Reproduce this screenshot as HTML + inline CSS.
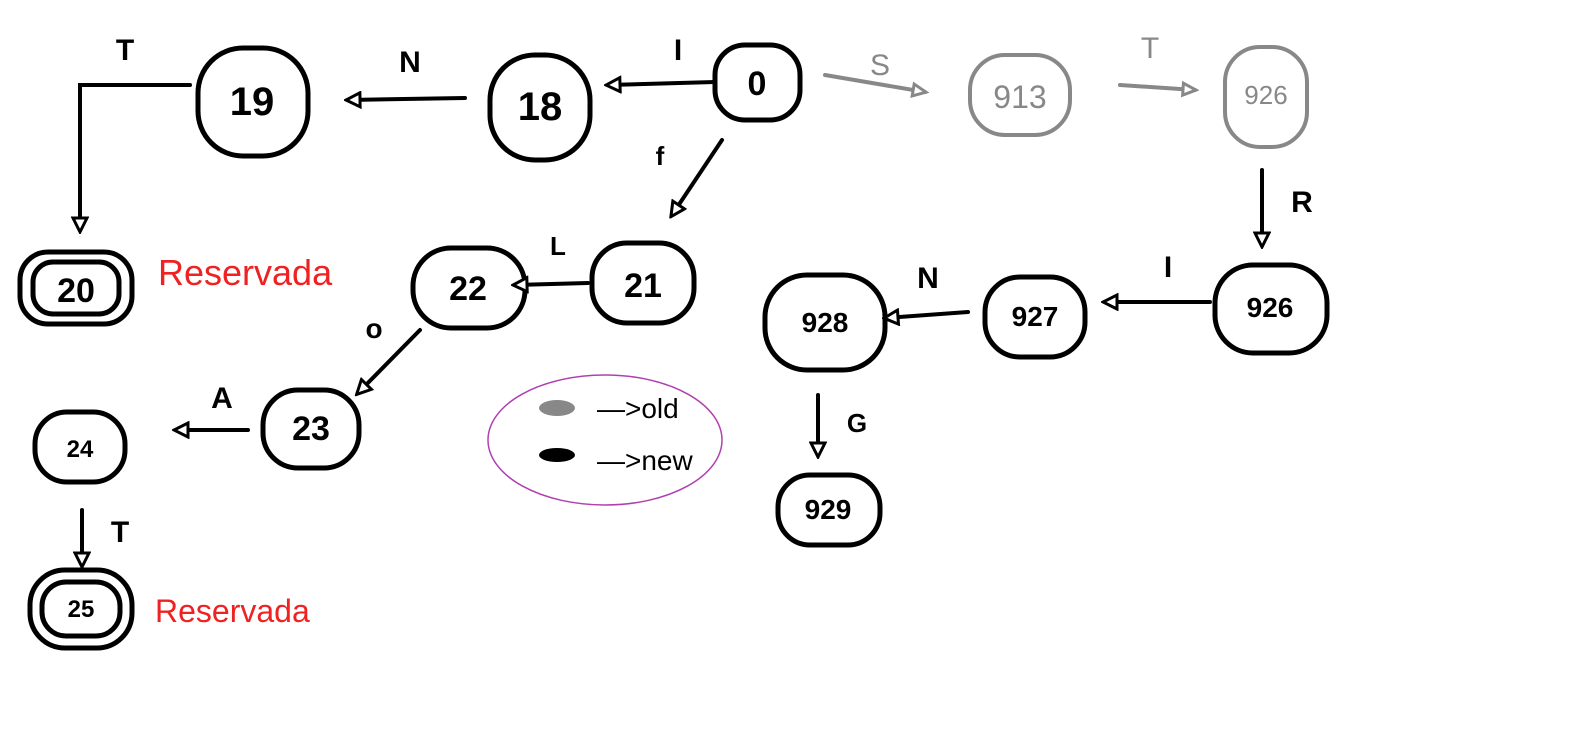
<!DOCTYPE html>
<html><head><meta charset="utf-8"><style>
html,body{margin:0;padding:0;background:#fff;}
svg{display:block;}
text{font-family:"Liberation Sans",sans-serif;}
</style></head><body>
<svg width="1594" height="755" viewBox="0 0 1594 755">
<defs>
<marker id="ab" markerWidth="18" markerHeight="18" refX="14" refY="9" orient="auto" markerUnits="userSpaceOnUse"><path d="M2,2 L16,9 L2,16 Z" fill="#fff" stroke="#000" stroke-width="3"/></marker>
<marker id="ag" markerWidth="18" markerHeight="18" refX="14" refY="9" orient="auto" markerUnits="userSpaceOnUse"><path d="M2,3 L15,9 L2,15 Z" fill="#fff" stroke="#888" stroke-width="3"/></marker>
</defs>
<g fill="none" stroke="#000" stroke-width="5" stroke-linecap="round">
<rect x="198" y="48" width="110" height="108" rx="45"/>
<rect x="490" y="55" width="100" height="105" rx="45"/>
<rect x="715" y="45" width="85" height="75" rx="30"/>
<rect x="20" y="252" width="112" height="72" rx="28"/>
<rect x="33" y="262" width="86" height="52" rx="20"/>
<rect x="592" y="243" width="102" height="80" rx="35"/>
<rect x="413" y="248" width="112" height="80" rx="38"/>
<rect x="263" y="390" width="96" height="78" rx="35"/>
<rect x="35" y="412" width="90" height="70" rx="32"/>
<rect x="30" y="570" width="102" height="78" rx="35"/>
<rect x="42" y="582" width="78" height="54" rx="24"/>
<rect x="765" y="275" width="120" height="95" rx="42"/>
<rect x="985" y="277" width="100" height="80" rx="35"/>
<rect x="1215" y="265" width="112" height="88" rx="38"/>
<rect x="778" y="475" width="102" height="70" rx="32"/>
<polyline points="190,85 80,85 80,230" stroke-width="4" marker-end="url(#ab)"/>
<line x1="465" y1="98" x2="348" y2="100" stroke-width="4" marker-end="url(#ab)"/>
<line x1="715" y1="82" x2="608" y2="85" stroke-width="4" marker-end="url(#ab)"/>
<line x1="722" y1="140" x2="672" y2="215" stroke-width="4" marker-end="url(#ab)"/>
<line x1="1262" y1="170" x2="1262" y2="245" stroke-width="4" marker-end="url(#ab)"/>
<line x1="588" y1="283" x2="515" y2="285" stroke-width="4" marker-end="url(#ab)"/>
<line x1="420" y1="330" x2="358" y2="393" stroke-width="4" marker-end="url(#ab)"/>
<line x1="248" y1="430" x2="176" y2="430" stroke-width="4" marker-end="url(#ab)"/>
<line x1="82" y1="510" x2="82" y2="565" stroke-width="4" marker-end="url(#ab)"/>
<line x1="1210" y1="302" x2="1105" y2="302" stroke-width="4" marker-end="url(#ab)"/>
<line x1="968" y1="312" x2="886" y2="318" stroke-width="4" marker-end="url(#ab)"/>
<line x1="818" y1="395" x2="818" y2="455" stroke-width="4" marker-end="url(#ab)"/>
</g>
<g fill="none" stroke="#888" stroke-width="4" stroke-linecap="round">
<rect x="970" y="55" width="100" height="80" rx="35"/>
<rect x="1225" y="47" width="82" height="100" rx="35"/>
<line x1="825" y1="75" x2="925" y2="92" marker-end="url(#ag)"/>
<line x1="1120" y1="85" x2="1195" y2="90" marker-end="url(#ag)"/>
</g>
<g font-size="40" text-anchor="middle" font-weight="bold">
<text x="252" y="115">19</text>
<text x="540" y="120">18</text>
<text x="757" y="95" font-size="34">0</text>
<text x="76" y="302" font-size="34">20</text>
<text x="643" y="297" font-size="34">21</text>
<text x="468" y="300" font-size="34">22</text>
<text x="311" y="440" font-size="34">23</text>
<text x="80" y="457" font-size="24">24</text>
<text x="81" y="617" font-size="24">25</text>
<text x="825" y="332" font-size="28">928</text>
<text x="1035" y="326" font-size="28">927</text>
<text x="1270" y="317" font-size="28">926</text>
<text x="828" y="519" font-size="28">929</text>
<text x="1020" y="108" font-size="32" fill="#888" font-weight="normal">913</text>
<text x="1266" y="104" font-size="26" fill="#888" font-weight="normal">926</text>
</g>
<g font-size="30" text-anchor="middle" font-weight="bold">
<text x="125" y="60">T</text>
<text x="410" y="72">N</text>
<text x="678" y="60">I</text>
<text x="660" y="165" font-size="26">f</text>
<text x="880" y="75" fill="#888" font-weight="normal">S</text>
<text x="1150" y="58" fill="#888" font-weight="normal">T</text>
<text x="1302" y="212">R</text>
<text x="558" y="255" font-size="26">L</text>
<text x="374" y="338" font-size="28">o</text>
<text x="222" y="408">A</text>
<text x="120" y="542">T</text>
<text x="1168" y="277">I</text>
<text x="928" y="288">N</text>
<text x="857" y="432" font-size="26">G</text>
</g>
<text x="158" y="285" font-size="36" fill="#ee2222">Reservada</text>
<text x="155" y="622" font-size="32" fill="#ee2222">Reservada</text>
<g>
<ellipse cx="605" cy="440" rx="117" ry="65" fill="none" stroke="#b040b0" stroke-width="1.5"/>
<ellipse cx="557" cy="408" rx="18" ry="8" fill="#888"/>
<ellipse cx="557" cy="455" rx="18" ry="7" fill="#000"/>
<text x="597" y="418" font-size="28">—&gt;old</text>
<text x="597" y="470" font-size="28">—&gt;new</text>
</g>
</svg>
</body></html>
